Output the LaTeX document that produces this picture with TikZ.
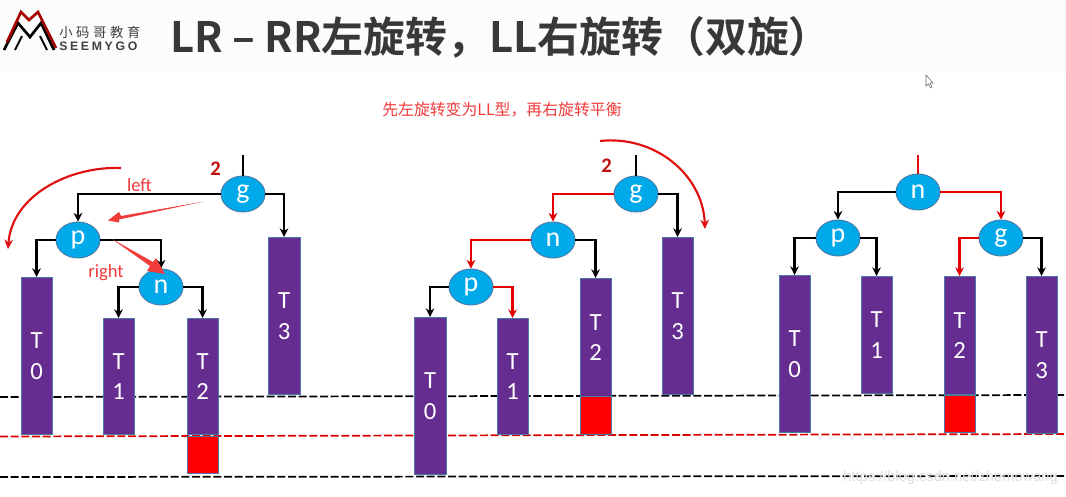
\documentclass[tikz,border=0pt]{standalone}
\usepackage{fontspec}
\setmainfont{Carlito}
\newfontfamily\cjk{Noto Sans CJK SC}
\newfontfamily\cjkb{Noto Sans CJK SC Bold}
\newfontfamily\lib{Liberation Sans}
\usetikzlibrary{arrows.meta,shapes.geometric}
\definecolor{tpurple}{HTML}{662D91}
\definecolor{tblue}{HTML}{00A9EA}
\definecolor{tedge}{HTML}{4A7BA6}
\definecolor{tred}{HTML}{F23B3B}
\definecolor{lred}{HTML}{E01010}
\tikzset{
  px/.style={x=0.75pt,y=-0.75pt},
  tnode/.style={ellipse,fill=tblue,draw=tedge,line width=.7pt,minimum width=33pt,minimum height=27pt,inner sep=0pt,text=white,font=\fontsize{21}{21}\selectfont},
  tbar/.style={rectangle,anchor=north west,fill=tpurple,draw=tedge,line width=.8pt,inner sep=0pt,text=white,align=center,font=\fontsize{18.5}{23}\selectfont},
  redbox/.style={rectangle,anchor=north west,fill=red,draw=tedge,line width=.8pt,inner sep=0pt},
  arr/.style={draw=black,line width=1.6pt,-{Stealth[length=6.5pt,width=6.5pt]}},
  rarr/.style={draw=red!90!black,line width=1.6pt,-{Stealth[length=6.5pt,width=6.5pt]}},
  stub/.style={draw=black,line width=1.6pt},
  swing/.style={draw=lred,line width=1.6pt,-{Stealth[length=7pt,width=6.5pt]}},
  level/.style={line width=1.3pt,dash pattern=on 6pt off 2pt},
  redlabel/.style={text=tred,font=\fontsize{14}{16}\selectfont,inner sep=0pt},
  twolabel/.style={text=lred!85!black,font=\bfseries\fontsize{15.5}{16}\selectfont,inner sep=0pt},
}
\newcommand{\tb}[6]{\node[tbar,minimum width={(#4-#2)*0.75pt},minimum height={(#5-#3)*0.75pt}] (#1) at (#2-.5,#3) {#6};}
\newcommand{\rb}[5]{\node[redbox,minimum width={(#4-#2)*0.75pt},minimum height={(#5-#3)*0.75pt}] (#1) at (#2-.5,#3) {};}
\begin{document}
\begin{tikzpicture}[px]
\useasboundingbox (0,0) rectangle (1066,496);
\fill[white] (0,0) rectangle (1066,496);
\fill[black!1] (0,0) rectangle (1066,72);
% logo
\draw[line width=2pt,draw=black,line join=miter] (4,50) -- (18,23) -- (30,37) -- (41,23) -- (54,50);
\draw[line width=1.4pt,draw=black] (15,50) -- (22,36);
\draw[line width=1.4pt,draw=black] (47,50) -- (40,36);
\draw[line width=2pt,draw=red!65!black,line join=miter] (7,42) -- (21,12) -- (29,20) -- (38,12) -- (56,48);
\node[inner sep=0pt,anchor=west,text=black!75] (logocn) at (59,32) {\cjk\fontsize{10}{10}\selectfont 小\hspace{2.7pt}码\hspace{2.7pt}哥\hspace{2.7pt}教\hspace{2.7pt}育};
\node[inner sep=0pt,anchor=west,text=black!75] (logoen) at (59,46.5) {\lib\bfseries\fontsize{9.2}{10}\selectfont S\hspace{2pt}E\hspace{2pt}E\hspace{2pt}M\hspace{2pt}Y\hspace{2pt}G\hspace{2pt}O};
% title
\node[inner sep=0pt,anchor=west,text=black!78] (title) at (170,37) {\cjkb\fontsize{31.4}{33}\selectfont LR – RR左旋转，LL右旋转（双旋）};
\node[inner sep=0pt,anchor=west,text=tred] (note) at (382,110) {\cjk\fontsize{11.9}{13}\selectfont 先左旋转变为LL型，再右旋转平衡};
% cursor
\draw[fill=white,draw=black!60,line width=.4pt] (926,75) -- (926,86) -- (928.5,84) -- (930.5,88) -- (932,87) -- (930,83) -- (933,83) -- cycle;
% levels
\draw[level,black] (0,397) -- (1066,395);
\draw[level,red!85!black] (0,436.5) -- (1066,434);
\draw[level,black] (0,477) -- (1066,476);
% tree 1
\node[tnode] (g1) at (243,194) {g};
\node[tnode] (p1) at (78,240) {p};
\node[tnode] (n1) at (161,287) {n};
\tb{t01}{21}{277}{52}{434}{T\\0}
\tb{t11}{103}{318}{134}{434}{T\\1}
\tb{t21}{187}{318}{218}{434}{T\\2}
\rb{r1}{187}{436}{218}{473}
\tb{t31}{268}{237}{300}{394}{T\\3}
\coordinate (top1) at (243,155);
\draw[stub] (top1) -- (g1.north);
\draw[arr] (g1.west) -| (p1.north);
\draw[arr] (g1.east) -| (t31.north);
\draw[arr] (p1.west) -| (t01.north);
\draw[arr] (p1.east) -| (n1.north);
\draw[arr] (n1.west) -| (t11.north);
\draw[arr] (n1.east) -| (t21.north);
\node[twolabel] (two1) at (215.5,169) {2};
\node[redlabel] (left1) at (139.5,185) {left};
\node[redlabel] (right1) at (106,272.5) {right};
\coordinate (sw1a) at (121,168);
\coordinate (sw1b) at (8,249);
\draw[swing] (sw1a) .. controls (70,166) and (12,195) .. (sw1b);
\coordinate (la) at (204,201.5);
\coordinate (lb) at (108,220.5);
\fill[tred] (la) -- (121,216) -- (119,212) -- (lb) -- (119,222.5) -- (119,219.5) -- cycle;
\coordinate (ra) at (112,239);
\coordinate (rb) at (165,274);
\fill[tred] (ra) -- (153,262) -- (156,258) -- (rb) -- (147,271) -- (150,266) -- cycle;
% tree 2
\node[tnode] (g2) at (636,194) {g};
\node[tnode] (n2) at (553,240) {n};
\node[tnode] (p2) at (471,287) {p};
\tb{t02}{414}{317}{446}{474}{T\\0}
\tb{t12}{497}{318}{528}{434}{T\\1}
\tb{t22}{580}{278}{611}{396}{T\\2}
\rb{r2}{580}{396}{611}{434}
\tb{t32}{662}{237}{693}{394}{T\\3}
\coordinate (top2) at (636,155);
\draw[stub] (top2) -- (g2.north);
\draw[rarr] (g2.west) -| (n2.north);
\draw[arr] (g2.east) -| (t32.north);
\draw[rarr] (n2.west) -| (p2.north);
\draw[arr] (n2.east) -| (t22.north);
\draw[arr] (p2.west) -| (t02.north);
\draw[rarr] (p2.east) -| (t12.north);
\node[twolabel] (two2) at (606.5,166) {2};
\coordinate (sw2a) at (600,141);
\coordinate (sw2b) at (705,229);
\draw[swing] (sw2a) .. controls (655,135) and (703,175) .. (sw2b);
% tree 3
\node[tnode] (n3) at (918,192) {n};
\node[tnode] (p3) at (838,238) {p};
\node[tnode] (g3) at (1001,238) {g};
\tb{t03}{779}{275}{810}{432}{T\\0}
\tb{t13}{861}{276}{892}{393}{T\\1}
\tb{t23}{944}{276}{975}{394}{T\\2}
\rb{r3}{944}{395}{975}{432}
\tb{t33}{1026}{276}{1057}{433}{T\\3}
\coordinate (top3) at (918,155);
\draw[draw=lred,line width=1.6pt] (top3) -- (n3.north);
\draw[arr] (n3.west) -| (p3.north);
\draw[rarr] (n3.east) -| (g3.north);
\draw[arr] (p3.west) -| (t03.north);
\draw[arr] (p3.east) -| (t13.north);
\draw[rarr] (g3.west) -| (t23.north);
\draw[arr] (g3.east) -| (t33.north);
% watermark
\node[inner sep=0pt,anchor=east,text=black!13] (wm) at (1058,478) {\lib\fontsize{11}{12}\selectfont https://blog.csdn.net/zhemowang};
\end{tikzpicture}
\end{document}
